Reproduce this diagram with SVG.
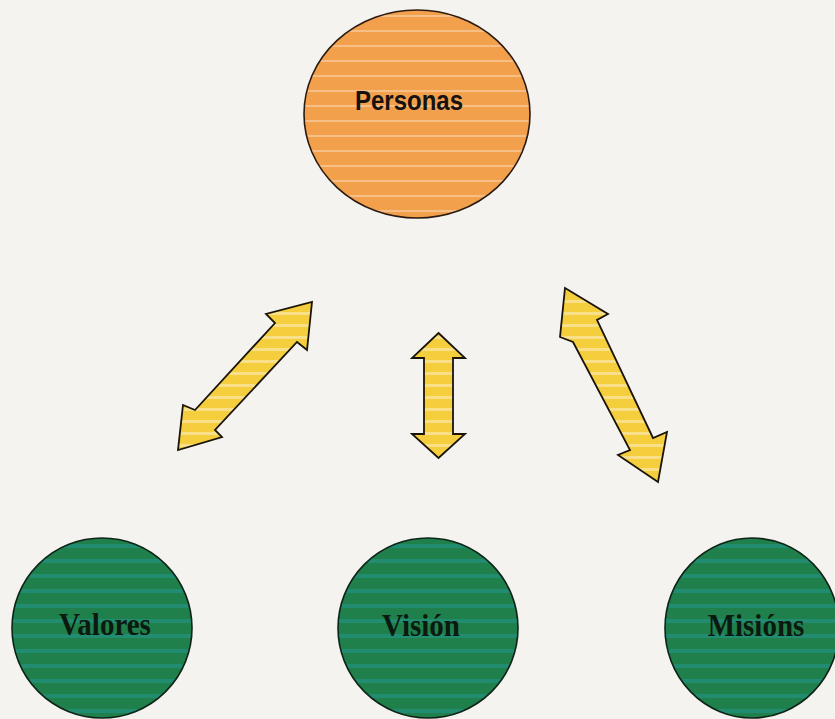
<svg xmlns="http://www.w3.org/2000/svg" width="835" height="719" viewBox="0 0 835 719">
  <defs>
    <pattern id="pOrange" patternUnits="userSpaceOnUse" width="20" height="15">
      <rect width="20" height="15" fill="#F3A04C"/>
      <rect y="0" width="20" height="2" fill="#F6BF88"/>
    </pattern>
    <pattern id="pGreen" patternUnits="userSpaceOnUse" width="20" height="15">
      <rect width="20" height="15" fill="#20804C"/>
      <rect y="4" width="20" height="4" fill="#218C70"/>
    </pattern>
    <pattern id="pYellow" patternUnits="userSpaceOnUse" width="20" height="12">
      <rect width="20" height="12" fill="#F4CE3C"/>
      <rect y="0" width="20" height="3" fill="#F8E08A"/>
    </pattern>
    <style>
      .orange { fill: url(#pOrange); stroke: #2a1a10; stroke-width: 1.6; }
      .green { fill: url(#pGreen); stroke: #0e2418; stroke-width: 1.6; }
      .arrow { fill: url(#pYellow); stroke: #1a1408; stroke-width: 1.8; stroke-linejoin: miter; }
      .sans { font-family: "Liberation Sans", Arial, sans-serif; font-weight: bold; font-size: 24px; fill: #161210; }
      .serif { font-family: "Liberation Serif", "Times New Roman", serif; font-weight: bold; font-size: 29px; fill: #0b1a10; }
    </style>
  </defs>
  <rect width="835" height="719" fill="#F4F3EF"/>

  <g id="personas">
    <ellipse class="orange" cx="417" cy="114" rx="113" ry="104"/>
    <text class="sans" text-anchor="middle" transform="translate(409,110) scale(1,1.12)">Personas</text>
  </g>

  <g id="valores">
    <ellipse class="green" cx="102" cy="628" rx="90" ry="90"/>
    <text class="serif" text-anchor="middle" transform="translate(105,635) scale(1,1.08)">Valores</text>
  </g>

  <g id="vision">
    <ellipse class="green" cx="428" cy="628" rx="90" ry="90"/>
    <text class="serif" text-anchor="middle" transform="translate(421,636) scale(1,1.08)">Visión</text>
  </g>

  <g id="misions">
    <ellipse class="green" cx="752" cy="628" rx="87" ry="90"/>
    <text class="serif" text-anchor="middle" transform="translate(756,636) scale(1,1.08)">Misións</text>
  </g>

  <g id="connectors">
    <polygon class="arrow" points="312,302 307,350 297,342 215,430 222,437 178,450 183,405 195,410 275,323 266,314"/>
    <polygon class="arrow" points="438.5,333 465,358 453,358 453,434 465,434 438.5,458 412,434 424,434 424,358 412,358"/>
    <polygon class="arrow" points="565,288 608,314 597,320 653,438 667,432 658,482 618,455 630,450 573,342 560,337"/>
  </g>
</svg>
